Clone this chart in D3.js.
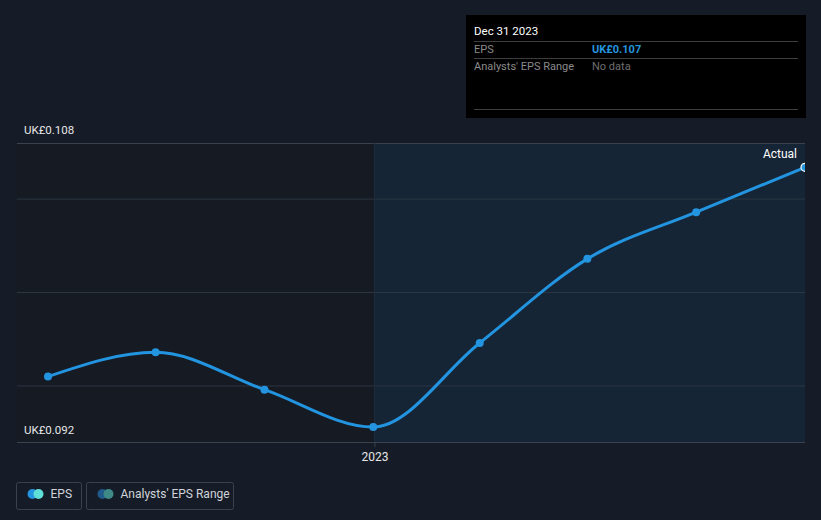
<!DOCTYPE html>
<html><head><meta charset="utf-8">
<script src="https://cdn.jsdelivr.net/npm/d3@7"></script>
<style>
html,body{margin:0;padding:0;background:#161c27;}
svg{display:block;font-family:Roboto, "Open Sans", sans-serif;}
</style></head>
<body><svg id="c" width="821" height="520"></svg>
<script>
const dates = ["2022-03-31","2022-06-30","2022-09-30","2022-12-31","2023-03-31","2023-06-30","2023-09-30","2023-12-31"];
const eps = [0.0955, 0.0968, 0.0948, 0.0928, 0.0973, 0.1018, 0.1043, 0.1067];
const gridValues = [0.095, 0.100, 0.105];
const yLabels = ["UK£0.108", "UK£0.092"];
const xTickLabels = ["2023"];
const legendItems = ["EPS", "Analysts' EPS Range"];

const parse = d3.timeParse("%Y-%m-%d");
const data = dates.map((d,i)=>({date:parse(d), v:eps[i]}));
const svg = d3.select("#c");
const L=17, R=805, T=143, B=442;
const x = d3.scaleTime().domain([parse("2022-03-31"), parse("2023-12-31")]).range([48, R]);
const y = d3.scaleLinear().domain([0.092, 0.108]).range([B, T]);
const splitX = x(parse("2023-01-01"));

svg.append("rect").attr("x",0).attr("y",0).attr("width",821).attr("height",520).attr("fill","#161c27");
svg.append("rect").attr("x",L).attr("y",T).attr("width",splitX-L).attr("height",B-T).attr("fill","#151a23");
svg.append("rect").attr("x",splitX).attr("y",T).attr("width",R-splitX).attr("height",B-T).attr("fill","#152536");

svg.selectAll(".grid").data(gridValues).enter().append("line")
  .attr("x1",L).attr("x2",R).attr("y1",d=>y(d)).attr("y2",d=>y(d))
  .attr("stroke","#2c3542").attr("stroke-width",1);
svg.append("line").attr("x1",L).attr("x2",R).attr("y1",T+0.5).attr("y2",T+0.5).attr("stroke","#3a424d");
svg.append("line").attr("x1",splitX).attr("x2",splitX).attr("y1",T).attr("y2",B).attr("stroke","#1f2d3d");

// x axis
const xAxis = d3.axisBottom(x).tickValues([parse("2023-01-01")]).tickFormat((d,i)=>xTickLabels[i]).tickSize(5).tickSizeOuter(0);
const gx = svg.append("g").attr("transform",`translate(0,${B})`).call(xAxis);
gx.select(".domain").remove();
gx.append("line").attr("x1",L).attr("x2",R).attr("y1",0.5).attr("y2",0.5).attr("stroke","#3a424d");
gx.selectAll(".tick line").attr("stroke","#3a424d");
gx.selectAll(".tick text").attr("fill","#e6e6e6").attr("font-size",12).attr("dy","0.9em").attr("font-family","Roboto, sans-serif");

// y labels
svg.append("text").attr("x",24).attr("y",y(0.108)-9).attr("fill","#e6e6e6").attr("font-size",11.5).text(yLabels[0]);
svg.append("text").attr("x",24).attr("y",y(0.092)-8).attr("fill","#e6e6e6").attr("font-size",11.5).text(yLabels[1]);

// line
const line = d3.line().x(d=>x(d.date)).y(d=>y(d.v)).curve(d3.curveMonotoneX);
svg.append("path").datum(data).attr("d",line).attr("fill","none").attr("stroke","#2394df").attr("stroke-width",3);
svg.selectAll(".pt").data(data.slice(0,-1)).enter().append("circle")
  .attr("cx",d=>x(d.date)).attr("cy",d=>y(d.v)).attr("r",4).attr("fill","#2394df");
const last = data[data.length-1];
svg.append("circle").attr("cx",x(last.date)).attr("cy",y(last.v)).attr("r",4).attr("fill","#2394df").attr("stroke","#ffffff").attr("stroke-width",1.2);
// cover right overflow
svg.append("rect").attr("x",R).attr("y",T-2).attr("width",821-R).attr("height",B-T+10).attr("fill","#161c27");
svg.append("text").attr("x",797).attr("y",158).attr("text-anchor","end").attr("fill","#ffffff").attr("font-size",12).text("Actual");

// tooltip
const tt = svg.append("g").attr("transform","translate(466,15)");
tt.append("rect").attr("width",340).attr("height",103).attr("fill","#000000");
tt.append("text").attr("x",8).attr("y",20).attr("fill","#ffffff").attr("font-size",11.5).text("Dec 31 2023");
[26,43,94].forEach(yy=>tt.append("line").attr("x1",8).attr("x2",332).attr("y1",yy+0.5).attr("y2",yy+0.5).attr("stroke","#3d3d3d"));
tt.append("text").attr("x",8).attr("y",38).attr("fill","#8a8a8a").attr("font-size",11).text("EPS");
tt.append("text").attr("x",126).attr("y",38).attr("fill","#2394df").attr("font-size",11).attr("font-weight","bold").text("UK£" + d3.format(".3f")(last.v));
tt.append("text").attr("x",8).attr("y",55).attr("fill","#8a8a8a").attr("font-size",11).text("Analysts' EPS Range");
tt.append("text").attr("x",126).attr("y",55).attr("fill","#6e6e6e").attr("font-size",11).text("No data");

// legend
const lg = svg.append("g");
const boxes = [{x:16.5,w:65,c1:"#2394df",c2:"#5ee0d8"},{x:86.5,w:147,c1:"#1f5a8a",c2:"#3f8a86"}];
boxes.forEach((b,i)=>{
  lg.append("rect").attr("x",b.x).attr("y",482.5).attr("width",b.w).attr("height",27).attr("rx",2).attr("fill","none").attr("stroke","#3a424d");
  lg.append("circle").attr("cx",b.x+16).attr("cy",494).attr("r",5).attr("fill",b.c1);
  lg.append("circle").attr("cx",b.x+22).attr("cy",494).attr("r",5).attr("fill",b.c2);
  lg.append("text").attr("x",b.x+34).attr("y",498).attr("fill","#d0d4da").attr("font-size",12).text(legendItems[i]);
});
</script></body></html>
